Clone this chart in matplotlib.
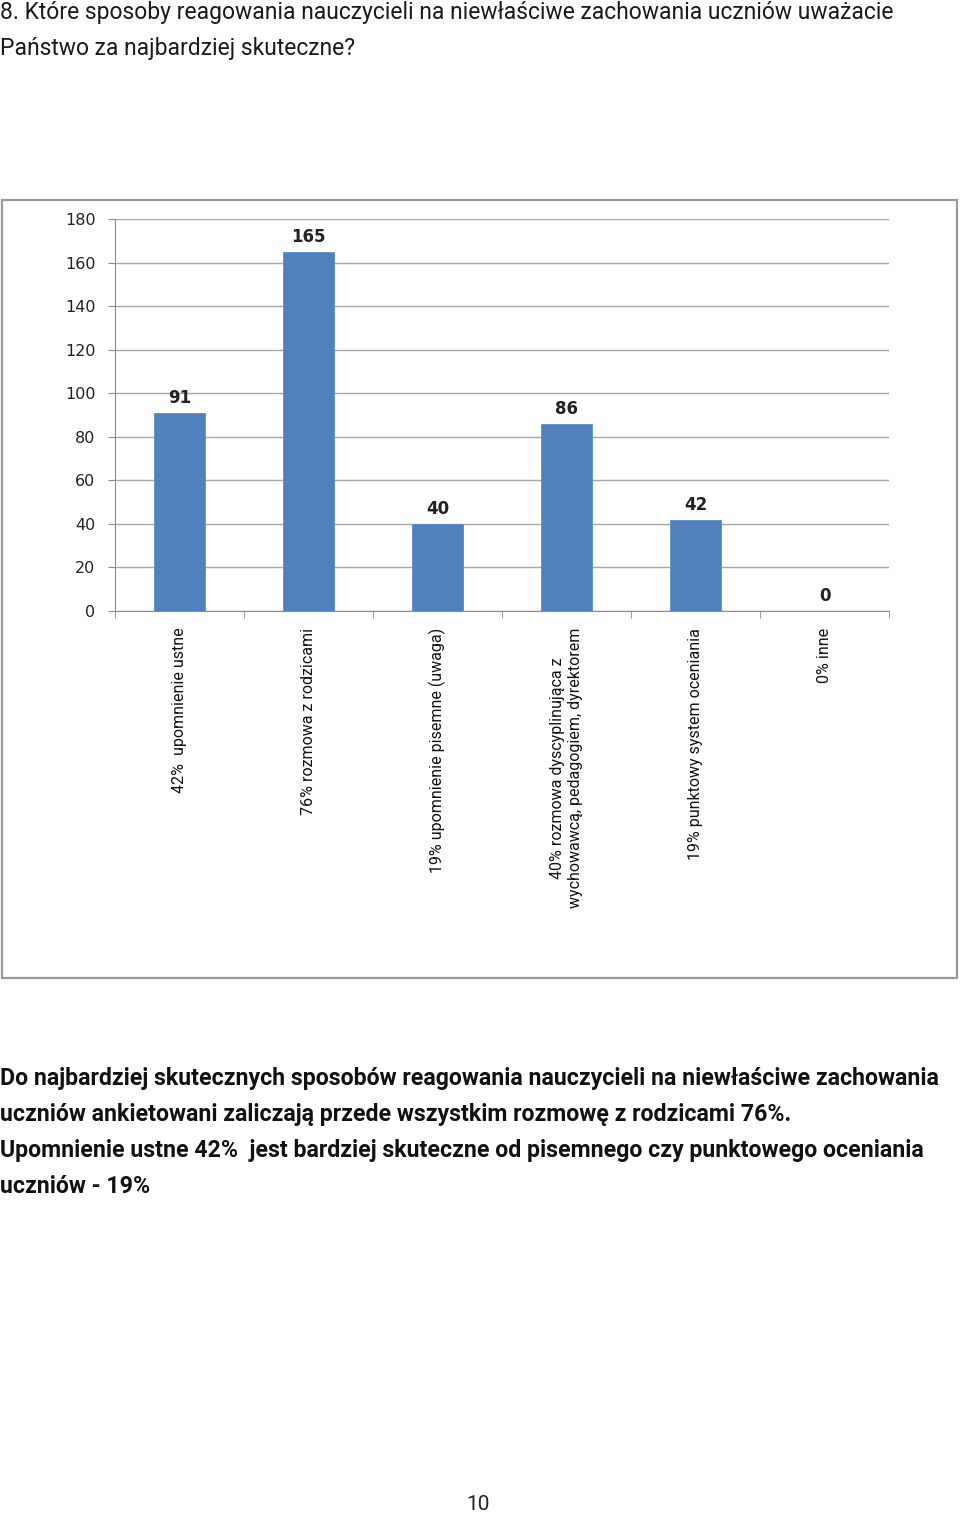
import matplotlib
matplotlib.use("Agg")
import matplotlib.pyplot as plt
from matplotlib.patches import Rectangle
import numpy as np

categories = [
    "42%  upomnienie ustne",
    "76% rozmowa z rodzicami",
    "19% upomnienie pisemne (uwaga)",
    "40% rozmowa dyscyplinująca z\nwychowawcą, pedagogiem, dyrektorem",
    "19% punktowy system oceniania",
    "0% inne",
]
values = [91, 165, 40, 86, 42, 0]
yticks = [0, 20, 40, 60, 80, 100, 120, 140, 160, 180]

title_lines = [
    "8. Które sposoby reagowania nauczycieli na niewłaściwe zachowania uczniów uważacie",
    "Państwo za najbardziej skuteczne?",
]
para_lines = [
    "Do najbardziej skutecznych sposobów reagowania nauczycieli na niewłaściwe zachowania",
    "uczniów ankietowani zaliczają przede wszystkim rozmowę z rodzicami 76%.",
    "Upomnienie ustne 42%  jest bardziej skuteczne od pisemnego czy punktowego oceniania",
    "uczniów - 19%",
]
page_no = "10"

NARROW = ["Roboto", "DejaVu Sans"]

W, H = 960, 1515
fig = plt.figure(figsize=(W / 100, H / 100), dpi=100)
fig.patch.set_facecolor("white")
renderer = fig.canvas.get_renderer()

def fy(py):
    return 1 - py / H

def fit(txt, target_px, horizontal=True):
    bb = txt.get_window_extent(renderer=renderer)
    cur = bb.width if horizontal else bb.height
    txt.set_fontsize(txt.get_fontsize() * target_px / cur)

# outer chart frame
fig.patches.append(Rectangle((2 / W, fy(978)), 955 / W, 778 / H, transform=fig.transFigure,
                             fill=False, edgecolor="#9a9a9a", linewidth=1.6, zorder=0))

ax = fig.add_axes([115 / W, fy(611), (889 - 115) / W, (611 - 219) / H])
x = np.arange(len(categories))
bars = ax.bar(x, values, width=0.4, color="#4F81BD", edgecolor="#5B8FCC", linewidth=0.6, zorder=3)
ax.set_xlim(-0.5, len(categories) - 0.5)
ax.set_ylim(0, 180)
ax.set_yticks(yticks)
ax.set_yticklabels([str(v) for v in yticks], fontsize=11.5, color="#222222", family="DejaVu Sans")
ax.yaxis.grid(True, color="#a8a8a8", linewidth=1.0, zorder=0)
ax.set_axisbelow(True)
for s in ["top", "right"]:
    ax.spines[s].set_visible(False)
ax.spines["left"].set_color("#8c8c8c")
ax.spines["bottom"].set_color("#8c8c8c")
ax.tick_params(axis="y", length=5, color="#8c8c8c", pad=9)
ax.set_xticks(x)
ax.set_xticklabels(categories, rotation=90, fontsize=13, family=NARROW, va="top", ha="center",
                   color="#111111")
ax.tick_params(axis="x", length=0, pad=12)
ax.set_xticks(np.arange(-0.5, len(categories)), minor=True)
ax.tick_params(axis="x", which="minor", length=5, color="#8c8c8c")

for b, v in zip(bars, values):
    ax.annotate(str(v), (b.get_x() + b.get_width() / 2, v), xytext=(0, 4), textcoords="offset points",
                ha="center", va="bottom", fontsize=12, fontweight="bold", color="#222222",
                family="DejaVu Sans")

# fit x labels so that the third label spans ~245 px
fig.canvas.draw()
lbls = ax.get_xticklabels()
bb = lbls[2].get_window_extent(renderer=renderer)
scale = 245 / bb.height
for l in lbls:
    l.set_fontsize(13 * scale)

# title
tt = []
for i, t in enumerate(title_lines):
    tt.append(fig.text(0 / W, fy(12 + 36 * i), t, ha="left", va="center", fontsize=16, family=NARROW,
                       color="#1a1a1a"))
fit(tt[0], 893)
for t in tt[1:]:
    t.set_fontsize(tt[0].get_fontsize())

pp = []
for i, t in enumerate(para_lines):
    pp.append(fig.text(0 / W, fy(1079 + 35.8 * i), t, ha="left", va="center", fontsize=16, family=NARROW,
                       fontweight="bold", color="#111111"))
fit(pp[0], 942)
for t in pp[1:]:
    t.set_fontsize(pp[0].get_fontsize())

fig.text(478 / W, fy(1505), page_no, ha="center", va="center", fontsize=15, family=NARROW, color="#222222")

fig.savefig("out.png", dpi=100)
